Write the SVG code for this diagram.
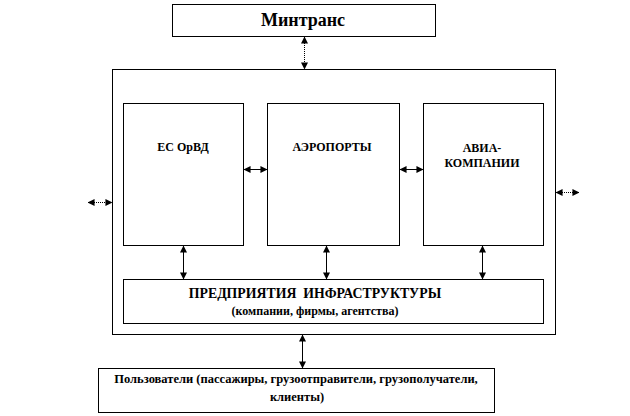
<svg xmlns="http://www.w3.org/2000/svg" width="630" height="416" viewBox="0 0 630 416">
<defs>
<marker id="ah" viewBox="0 0 8 8" refX="7.5" refY="4" markerWidth="7" markerHeight="7" markerUnits="userSpaceOnUse" orient="auto-start-reverse">
<path d="M0,0 L8,4 L0,8 Z" fill="#000"/>
</marker>
</defs>
<style>
.box{fill:#fff;stroke:#000;stroke-width:1}
.t{font-weight:bold;fill:#000;text-anchor:middle}
.c{stroke:#000;stroke-width:1;fill:none;marker-start:url(#ah);marker-end:url(#ah)}
.d{stroke-dasharray:1,1}
</style>
<rect width="630" height="416" fill="#fff"/>
<g font-family="'Liberation Serif', 'DejaVu Serif', serif">
<g id="outer"><rect class="box" x="112.5" y="69.5" width="443" height="265"/></g>
<g id="mintrans"><rect class="box" x="172.5" y="4.5" width="263" height="32"/><text class="t" x="303" y="26" font-size="18">Минтранс</text></g>
<g id="esorvd"><rect class="box" x="123.5" y="103.5" width="120" height="142"/><text class="t" x="183" y="151" font-size="12">ЕС ОрВД</text></g>
<g id="airports"><rect class="box" x="267.5" y="103.5" width="132" height="142"/><text class="t" x="332" y="151" font-size="12">АЭРОПОРТЫ</text></g>
<g id="airlines"><rect class="box" x="423.5" y="103.5" width="120" height="142"/><text class="t" x="482" y="152" font-size="12">АВИА-</text><text class="t" x="482" y="167" font-size="12">КОМПАНИИ</text></g>
<g id="infra"><rect class="box" x="123.5" y="279.5" width="420" height="44"/><text class="t" x="315" y="298" font-size="13.8" xml:space="preserve">ПРЕДПРИЯТИЯ  ИНФРАСТРУКТУРЫ</text><text class="t" x="315" y="315" font-size="12">(компании, фирмы, агентства)</text></g>
<g id="users"><rect class="box" x="98.5" y="368.5" width="396" height="44"/><text class="t" x="296" y="383" font-size="12.5">Пользователи (пассажиры, грузоотправители, грузополучатели,</text><text class="t" x="297" y="401" font-size="12.5">клиенты)</text></g>
</g>
<g id="connectors">
<line class="c d" x1="304.5" y1="37" x2="304.5" y2="69"/>
<line class="c" x1="244" y1="169.5" x2="267" y2="169.5"/>
<line class="c" x1="400" y1="169.5" x2="423" y2="169.5"/>
<line class="c d" x1="88" y1="202.5" x2="112" y2="202.5"/>
<line class="c d" x1="556" y1="192.5" x2="579" y2="192.5"/>
<line class="c" x1="183.5" y1="246" x2="183.5" y2="279"/>
<line class="c" x1="326.5" y1="246" x2="326.5" y2="279"/>
<line class="c" x1="482.5" y1="246" x2="482.5" y2="279"/>
<line class="c" x1="302.5" y1="335" x2="302.5" y2="368"/>
</g>
</svg>
